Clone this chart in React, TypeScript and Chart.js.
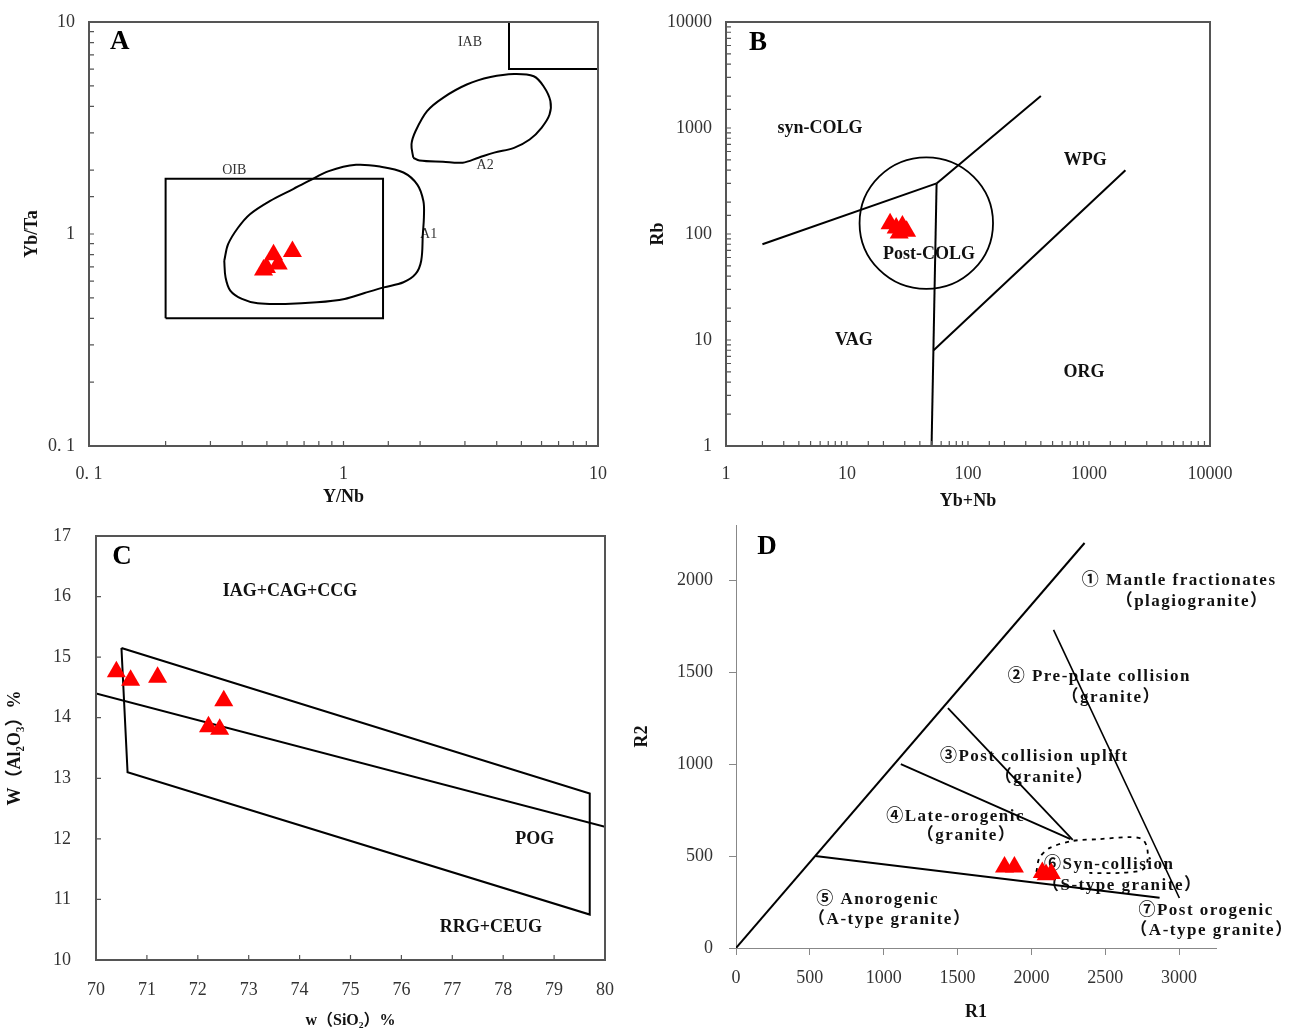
import React, { useEffect, useRef } from 'react';
import { Chart, registerables } from 'chart.js';

Chart.register(...registerables);

const SERIF = '"Liberation Serif", "Times New Roman", "DejaVu Serif", "Noto Sans CJK SC", serif';
Chart.defaults.font.family = SERIF;
Chart.defaults.color = '#222';

const RED = '#ff0000';

// ---------------- Panel A: Yb/Ta vs Y/Nb ----------------
const aSampleX = [0.63, 0.531, 0.554, 0.485, 0.498];
const aSampleY = [0.828, 0.798, 0.721, 0.676, 0.695];
const aOibX = [0.2, 1.43, 1.43, 0.2, 0.2];
const aOibY = [0.4, 0.4, 1.82, 1.82, 0.4];
const aIabX = [4.47, 4.47, 10];
const aIabY = [10, 6, 6];
const aA1X = [0.34, 0.352, 0.385, 0.429, 0.513, 0.634, 0.731, 0.875, 1.12, 1.39, 1.72, 1.95, 2.06, 2.07, 2.05, 2.02, 1.92, 1.72, 1.44, 1.21, 1.01, 0.786, 0.591, 0.46, 0.399, 0.359, 0.344, 0.34];
const aA1Y = [0.748, 0.895, 1.07, 1.24, 1.43, 1.63, 1.78, 1.98, 2.12, 2.08, 1.95, 1.71, 1.43, 1.2, 1.0, 0.748, 0.648, 0.592, 0.56, 0.527, 0.494, 0.476, 0.468, 0.471, 0.494, 0.541, 0.624, 0.748];
const aA2X = [1.88, 1.85, 1.92, 2.13, 2.46, 3.05, 3.78, 4.68, 5.59, 6.11, 6.5, 6.45, 6.0, 5.39, 4.68, 3.91, 3.39, 2.94, 2.46, 1.99, 1.88];
const aA2Y = [2.29, 2.65, 3.06, 3.8, 4.39, 5.07, 5.5, 5.69, 5.55, 4.98, 4.24, 3.66, 3.17, 2.79, 2.55, 2.42, 2.29, 2.17, 2.19, 2.22, 2.29];
const aTickValues = [0.1, 1, 10];
const aTickLabels = ['0. 1', '1', '10'];

// ---------------- Panel B: Rb vs Yb+Nb ----------------
const bSampleX = [22.7, 25.5, 28.7, 31.1, 27.0];
const bSampleY = [125, 114, 119, 106, 102];
const bLine1X = [2, 55];
const bLine1Y = [80, 300];
const bLine2X = [55, 400];
const bLine2Y = [300, 2000];
const bLine3X = [50, 55];
const bLine3Y = [1, 300];
const bLine4X = [52, 2000];
const bLine4Y = [8, 400];
const bCircleX = [12.7, 161];
const bCircleY = [30.3, 528];
const bTickValues = [1, 10, 100, 1000, 10000];
const bTickLabels = ['1', '10', '100', '1000', '10000'];

// ---------------- Panel C: Al2O3 vs SiO2 ----------------
const cSampleX = [70.4, 70.68, 71.21, 72.51, 72.21, 72.43];
const cSampleY = [14.76, 14.62, 14.67, 14.28, 13.85, 13.81];
const cBoxX = [70.5, 79.7, 79.7, 70.62, 70.5];
const cBoxY = [15.15, 12.75, 10.75, 13.1, 15.15];
const cDiagX = [70, 80];
const cDiagY = [14.4, 12.2];
const cXTicks = [70, 71, 72, 73, 74, 75, 76, 77, 78, 79, 80];
const cYTicks = [10, 11, 12, 13, 14, 15, 16, 17];

// ---------------- Panel D: R1-R2 ----------------
const dSampleX = [1818, 1885, 2074, 2135, 2100];
const dSampleY = [440, 440, 410, 405, 398];
const dL1X = [0, 2360];
const dL1Y = [0, 2202];
const dL2X = [2150, 3002];
const dL2Y = [1730, 272];
const dL3X = [1435, 2280];
const dL3Y = [1304, 588];
const dL4X = [1116, 2265];
const dL4Y = [1000, 592];
const dL5X = [536, 2868];
const dL5Y = [500, 273];
const dDashX = [2034, 2054, 2122, 2277, 2460, 2662, 2750, 2784, 2784, 2750, 2595, 2392];
const dDashY = [413, 489, 543, 582, 592, 603, 592, 543, 467, 424, 408, 408];
const dXTicks = [0, 500, 1000, 1500, 2000, 2500, 3000];
const dYTicks = [0, 500, 1000, 1500, 2000];

type Pt = { x: number; y: number };
const zip = (xs: number[], ys: number[]): Pt[] => xs.map((x, i) => ({ x, y: ys[i] }));

type Label = { text: string; x: number; y: number; size: number; bold?: boolean; color?: string; spacing?: number };

const aLabels: Label[] = [
  { text: 'A', x: 0.132, y: 8.05, size: 27, bold: true, color: '#000' },
  { text: 'IAB', x: 3.14, y: 8.05, size: 14, color: '#333' },
  { text: 'OIB', x: 0.372, y: 1.99, size: 14, color: '#333' },
  { text: 'A2', x: 3.6, y: 2.1, size: 14, color: '#333' },
  { text: 'A1', x: 2.16, y: 1.0, size: 14, color: '#333' },
];
const bLabels: Label[] = [
  { text: 'B', x: 1.84, y: 6400, size: 27, bold: true, color: '#000' },
  { text: 'syn-COLG', x: 5.97, y: 990, size: 18, bold: true },
  { text: 'WPG', x: 930, y: 499, size: 18, bold: true },
  { text: 'Post-COLG', x: 47.6, y: 64.7, size: 18, bold: true },
  { text: 'VAG', x: 11.4, y: 10, size: 18, bold: true },
  { text: 'ORG', x: 910, y: 5.0, size: 18, bold: true },
];
const cLabels: Label[] = [
  { text: 'C', x: 70.51, y: 16.65, size: 27, bold: true, color: '#000' },
  { text: 'IAG+CAG+CCG', x: 73.81, y: 16.08, size: 18, bold: true },
  { text: 'POG', x: 78.62, y: 12.0, size: 18, bold: true },
  { text: 'RRG+CEUG', x: 77.76, y: 10.54, size: 18, bold: true },
];
const dLabels: Label[] = [
  { text: 'D', x: 210, y: 2180, size: 27, bold: true, color: '#000' },
  { text: '① Mantle fractionates', x: 3000, y: 2000, size: 17, bold: true, spacing: 1.5 },
  { text: '（plagiogranite）', x: 3088, y: 1886, size: 17, bold: true, spacing: 1.5 },
  { text: '② Pre-plate collision', x: 2460, y: 1473, size: 17, bold: true, spacing: 1.5 },
  { text: '（granite）', x: 2541, y: 1359, size: 17, bold: true, spacing: 1.5 },
  { text: '③Post collision uplift', x: 2020, y: 1043, size: 17, bold: true, spacing: 1.5 },
  { text: '（granite）', x: 2088, y: 929, size: 17, bold: true, spacing: 1.5 },
  { text: '④Late-orogenic', x: 1487, y: 717, size: 17, bold: true, spacing: 1.5 },
  { text: '（granite）', x: 1561, y: 609, size: 17, bold: true, spacing: 1.5 },
  { text: '⑥Syn-collision', x: 2527, y: 451, size: 17, bold: true, spacing: 1.5 },
  { text: '（S-type granite）', x: 2615, y: 337, size: 17, bold: true, spacing: 1.5 },
  { text: '⑤ Anorogenic', x: 959, y: 261, size: 17, bold: true, spacing: 1.5 },
  { text: '（A-type granite）', x: 1041, y: 152, size: 17, bold: true, spacing: 1.5 },
  { text: '⑦Post orogenic', x: 3183, y: 201, size: 17, bold: true, spacing: 1.5 },
  { text: '（A-type granite）', x: 3223, y: 92, size: 17, bold: true, spacing: 1.5 },
];

// ---------------- plugins ----------------
function labelPlugin(items: Label[]) {
  return {
    id: 'textLabels',
    beforeDatasetsDraw(chart: any) {
      const { ctx, scales } = chart;
      ctx.save();
      for (const it of items) {
        const px = scales.x.getPixelForValue(it.x);
        const py = scales.y.getPixelForValue(it.y);
        ctx.font = `${it.bold ? 'bold ' : ''}${it.size}px ${SERIF}`;
        ctx.fillStyle = it.color || '#111';
        ctx.textAlign = 'center';
        ctx.textBaseline = 'middle';
        (ctx as any).letterSpacing = (it.spacing || 0) + 'px';
        ctx.fillText(it.text, px, py);
      }
      ctx.restore();
    },
  };
}

function framePlugin(tickLen: number) {
  return {
    id: 'frameTicks',
    afterDatasetsDraw(chart: any) {
      const { ctx, chartArea: a, scales } = chart;
      ctx.save();
      ctx.strokeStyle = '#555';
      ctx.lineWidth = 1.2;
      ctx.beginPath();
      for (const t of scales.x.ticks) {
        const px = scales.x.getPixelForValue(t.value);
        if (px <= a.left + 1 || px >= a.right - 1) continue;
        ctx.moveTo(px, a.bottom);
        ctx.lineTo(px, a.bottom - tickLen);
      }
      for (const t of scales.y.ticks) {
        const py = scales.y.getPixelForValue(t.value);
        if (py <= a.top + 1 || py >= a.bottom - 1) continue;
        ctx.moveTo(a.left, py);
        ctx.lineTo(a.left + tickLen, py);
      }
      ctx.stroke();
      ctx.lineWidth = 2;
      ctx.strokeStyle = '#555';
      ctx.strokeRect(a.left, a.top, a.right - a.left, a.bottom - a.top);
      ctx.restore();
    },
  };
}

function ellipsePlugin(bx: number[], by: number[]) {
  return {
    id: 'ellipseShape',
    beforeDatasetsDraw(chart: any) {
      const { ctx, scales } = chart;
      const x0 = scales.x.getPixelForValue(bx[0]);
      const x1 = scales.x.getPixelForValue(bx[1]);
      const y0 = scales.y.getPixelForValue(by[0]);
      const y1 = scales.y.getPixelForValue(by[1]);
      ctx.save();
      ctx.beginPath();
      ctx.ellipse((x0 + x1) / 2, (y0 + y1) / 2, Math.abs(x1 - x0) / 2, Math.abs(y1 - y0) / 2, 0, 0, Math.PI * 2);
      ctx.lineWidth = 1.8;
      ctx.strokeStyle = '#000';
      ctx.stroke();
      ctx.restore();
    },
  };
}

// ---------------- helpers ----------------
const tickFont = { family: SERIF, size: 18 };
const titleFont = { family: SERIF, size: 18, weight: 'bold' as const, lineHeight: 1 };

const samples = (xs: number[], ys: number[]) => ({
  data: zip(xs, ys),
  showLine: false,
  pointStyle: 'triangle',
  pointRadius: 11,
  pointBackgroundColor: RED,
  pointBorderColor: RED,
  pointBorderWidth: 0,
});
const line = (xs: number[], ys: number[], width = 2, tension = 0, dash: number[] = []) => ({
  data: zip(xs, ys),
  showLine: true,
  pointRadius: 0,
  borderColor: '#000',
  borderWidth: width,
  borderDash: dash,
  tension,
  fill: false,
});

const logLabel = (values: number[], labels: string[]) => (v: any) => {
  const n = Number(v);
  const i = values.findIndex((t) => Math.abs(n - t) <= t * 1e-6);
  return i >= 0 ? labels[i] : '';
};
const plainLabel = (v: any) => String(v);

// fix an axis' thickness and drop its automatic edge padding
const fixX = (h: number) => (s: any) => {
  s.height = h;
  s.paddingLeft = 0; s.paddingRight = 0; s.paddingTop = 0; s.paddingBottom = 0;
};
const fixY = (w: number) => (s: any) => {
  s.width = w;
  s.paddingLeft = 0; s.paddingRight = 0; s.paddingTop = 0; s.paddingBottom = 0;
};

const baseOptions = (padding: any) => ({
  animation: false,
  responsive: false,
  maintainAspectRatio: false,
  events: [],
  layout: { autoPadding: false, padding },
  plugins: { legend: { display: false }, tooltip: { enabled: false } },
});

function configA(): any {
  return {
    type: 'scatter',
    data: {
      datasets: [
        samples(aSampleX, aSampleY),
        line(aOibX, aOibY),
        line(aIabX, aIabY),
        line(aA1X, aA1Y, 2, 0.35),
        line(aA2X, aA2Y, 2, 0.35),
      ],
    },
    options: {
      ...baseOptions({ left: 23, top: 22, right: 42, bottom: 9 }),
      scales: {
        x: {
          type: 'logarithmic', min: 0.1, max: 10,
          grid: { display: false }, border: { display: false },
          ticks: { autoSkip: false, maxRotation: 0, padding: 9, font: tickFont, color: '#333', callback: logLabel(aTickValues, aTickLabels) },
          title: { display: true, text: 'Y/Nb', font: titleFont, padding: 0, color: '#111' },
          afterFit: fixX(60),
        },
        y: {
          type: 'logarithmic', min: 0.1, max: 10,
          grid: { display: false }, border: { display: false },
          ticks: { autoSkip: false, padding: 6, font: tickFont, color: '#333', callback: logLabel(aTickValues, aTickLabels) },
          title: { display: true, text: 'Yb/Ta', font: titleFont, padding: 0, color: '#111' },
          afterFit: fixY(66),
        },
      },
    },
    plugins: [labelPlugin(aLabels), framePlugin(5)],
  };
}

function configB(): any {
  return {
    type: 'scatter',
    data: {
      datasets: [
        samples(bSampleX, bSampleY),
        line(bLine1X, bLine1Y),
        line(bLine2X, bLine2Y),
        line(bLine3X, bLine3Y),
        line(bLine4X, bLine4Y),
      ],
    },
    options: {
      ...baseOptions({ left: 9, top: 22, right: 81, bottom: 5 }),
      scales: {
        x: {
          type: 'logarithmic', min: 1, max: 10000,
          grid: { display: false }, border: { display: false },
          ticks: { autoSkip: false, maxRotation: 0, padding: 9, font: tickFont, color: '#333', callback: logLabel(bTickValues, bTickLabels) },
          title: { display: true, text: 'Yb+Nb', font: titleFont, padding: 0, color: '#111' },
          afterFit: fixX(64),
        },
        y: {
          type: 'logarithmic', min: 1, max: 10000,
          grid: { display: false }, border: { display: false },
          ticks: { autoSkip: false, padding: 6, font: tickFont, color: '#333', callback: logLabel(bTickValues, bTickLabels) },
          title: { display: true, text: 'Rb', font: titleFont, padding: 0, color: '#111' },
          afterFit: fixY(77),
        },
      },
    },
    plugins: [labelPlugin(bLabels), ellipsePlugin(bCircleX, bCircleY), framePlugin(5)],
  };
}

function configC(): any {
  return {
    type: 'scatter',
    data: {
      datasets: [
        samples(cSampleX, cSampleY),
        line(cBoxX, cBoxY),
        line(cDiagX, cDiagY),
      ],
    },
    options: {
      ...baseOptions({ left: 6, top: 21, right: 35, bottom: 0 }),
      scales: {
        x: {
          type: 'linear', min: 70, max: 80,
          afterBuildTicks: (s: any) => { s.ticks = cXTicks.map((v) => ({ value: v })); },
          grid: { display: false }, border: { display: false },
          ticks: { autoSkip: false, maxRotation: 0, padding: 11, font: tickFont, color: '#333', callback: plainLabel },
          title: { display: true, text: 'w（SiO₂）%', font: { ...titleFont, size: 16 }, padding: 0, color: '#111' },
          afterFit: fixX(69),
        },
        y: {
          type: 'linear', min: 10, max: 17,
          afterBuildTicks: (s: any) => { s.ticks = cYTicks.map((v) => ({ value: v })); },
          grid: { display: false }, border: { display: false },
          ticks: { autoSkip: false, padding: 17, font: tickFont, color: '#333', callback: plainLabel },
          title: { display: true, text: 'W（Al₂O₃）%', font: titleFont, padding: 0, color: '#111' },
          afterFit: fixY(90),
        },
      },
    },
    plugins: [labelPlugin(cLabels), framePlugin(5)],
  };
}

function configD(): any {
  const axisGrid = { display: true, drawOnChartArea: false, drawTicks: true, tickLength: 7, color: '#888', lineWidth: 1 };
  return {
    type: 'scatter',
    data: {
      datasets: [
        samples(dSampleX, dSampleY),
        line(dL1X, dL1Y, 2),
        line(dL2X, dL2Y, 1.6),
        line(dL3X, dL3Y, 1.8),
        line(dL4X, dL4Y, 1.8),
        line(dL5X, dL5Y, 2),
        line(dDashX, dDashY, 1.8, 0.3, [4, 5]),
      ],
    },
    options: {
      ...baseOptions({ left: 23, top: 10, right: 75, bottom: 8 }),
      scales: {
        x: {
          type: 'linear', min: 0, max: 3250,
          afterBuildTicks: (s: any) => { s.ticks = dXTicks.map((v) => ({ value: v })); },
          grid: axisGrid, border: { display: true, color: '#888', width: 1 },
          ticks: { autoSkip: false, maxRotation: 0, padding: 12, font: tickFont, color: '#333', callback: plainLabel },
          title: { display: true, text: 'R1', font: titleFont, padding: 0, color: '#111' },
          afterFit: fixX(73),
        },
        y: {
          type: 'linear', min: 0, max: 2300,
          afterBuildTicks: (s: any) => { s.ticks = dYTicks.map((v) => ({ value: v })); },
          grid: axisGrid, border: { display: true, color: '#888', width: 1 },
          ticks: { autoSkip: false, padding: 16, font: tickFont, color: '#333', callback: plainLabel },
          title: { display: true, text: 'R2', font: titleFont, padding: 0, color: '#111' },
          afterFit: fixY(103),
        },
      },
    },
    plugins: [labelPlugin(dLabels)],
  };
}

function Panel({ left, top, width, height, build }: { left: number; top: number; width: number; height: number; build: () => any }) {
  const ref = useRef<HTMLCanvasElement>(null);
  useEffect(() => {
    if (!ref.current) return;
    const chart = new Chart(ref.current, build());
    return () => chart.destroy();
  }, []);
  return (
    <canvas
      ref={ref}
      width={width}
      height={height}
      style={{ position: 'absolute', left, top, width, height }}
    />
  );
}

export default function App() {
  return (
    <div style={{ position: 'absolute', left: 0, top: 0, width: 1291, height: 1029, background: '#fff', overflow: 'hidden' }}>
      <Panel left={0} top={0} width={640} height={515} build={configA} />
      <Panel left={640} top={0} width={651} height={515} build={configB} />
      <Panel left={0} top={515} width={640} height={514} build={configC} />
      <Panel left={610} top={515} width={681} height={514} build={configD} />
    </div>
  );
}
